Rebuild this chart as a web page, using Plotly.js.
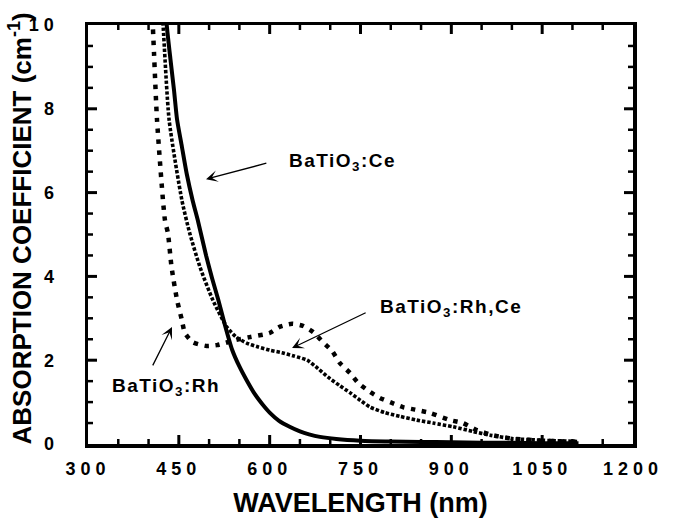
<!DOCTYPE html>
<html>
<head>
<meta charset="utf-8">
<script src="https://cdn.plot.ly/plotly-3.0.1.min.js"></script>
<style>
  html, body { margin: 0; padding: 0; background: #fff; }
  #chart { width: 677px; height: 523px; }
  .xtick text, .ytick text { letter-spacing: 5px; }
  .annotation-text { letter-spacing: 1.5px; }
  g.annotation[data-index="6"] text, g.annotation[data-index="7"] text { letter-spacing: 0px; }
</style>
</head>
<body>
<div id="chart"></div>
<script>
// BaTiO3:Ce (solid line)
const ceWavelength = [425, 430, 436, 442, 447, 455, 463, 473, 482, 495, 505, 515, 525, 538, 550, 562, 575, 588, 600, 615, 633, 650, 665, 683, 710, 750, 800, 850, 900, 950, 1000, 1050, 1110];
const ceAbsorption = [11.0, 10.0, 9.2, 8.45, 7.75, 7.1, 6.45, 5.8, 5.3, 4.5, 3.95, 3.45, 2.9, 2.25, 1.85, 1.52, 1.2, 0.95, 0.75, 0.56, 0.41, 0.3, 0.23, 0.17, 0.12, 0.08, 0.06, 0.05, 0.04, 0.03, 0.03, 0.02, 0.02];

// BaTiO3:Rh,Ce (dense dotted)
const rhceWavelength = [419, 424, 434, 455, 468, 485, 506, 529, 545, 562, 580, 600, 620, 640, 662, 680, 696, 715, 733, 750, 766, 790, 815, 843, 870, 903, 935, 964, 1000, 1050, 1110];
const rhceAbsorption = [11.2, 10.0, 7.73, 5.82, 5.03, 4.22, 3.44, 2.8, 2.55, 2.41, 2.32, 2.24, 2.18, 2.1, 2.0, 1.8, 1.6, 1.4, 1.22, 1.04, 0.88, 0.75, 0.66, 0.57, 0.5, 0.41, 0.3, 0.21, 0.13, 0.09, 0.06];

// BaTiO3:Rh (coarse dotted)
const rhWavelength = [403, 407, 409, 414, 427, 432, 438, 447, 455, 460, 473, 496, 513, 526, 543, 567, 600, 617, 637, 655, 672, 688, 703, 716, 733, 746, 766, 782, 802, 820, 840, 865, 898, 919, 942, 969, 1000, 1050, 1110];
const rhAbsorption = [11.2, 10.0, 9.33, 7.73, 5.35, 5.03, 4.22, 3.44, 2.96, 2.65, 2.43, 2.34, 2.36, 2.41, 2.48, 2.55, 2.65, 2.8, 2.87, 2.82, 2.67, 2.43, 2.22, 1.93, 1.69, 1.46, 1.24, 1.1, 0.98, 0.88, 0.82, 0.74, 0.57, 0.5, 0.33, 0.21, 0.13, 0.08, 0.05];

// Tick labels
const xTickVals = [300, 450, 600, 750, 900, 1050, 1200];
const xTickText = ['300', '450', '600', '750', '900', '1050', '1200'];
const yTickVals = [0, 2, 4, 6, 8, 10];
const yTickText = ['0', '2', '4', '6', '8', '10'];
const xMinorStep = 50;
const yMinorStep = 0.5;

const labelCe = 'BaTiO<sub>3</sub>:Ce';
const labelRhCe = 'BaTiO<sub>3</sub>:Rh,Ce';
const labelRh = 'BaTiO<sub>3</sub>:Rh';
const xTitle = 'WAVELENGTH (nm)';
const yTitle = 'ABSORPTION COEFFICIENT (cm<sup>-1</sup>)';

const FONT = 'Liberation Sans, Arial, Helvetica, sans-serif';

const W = 677, H = 523;
const M = { l: 88, r: 44, t: 25, b: 79 };
const xMin = xTickVals[0], xMax = xTickVals[xTickVals.length - 1];
const yMin = yTickVals[0], yMax = yTickVals[yTickVals.length - 1];
const xPerPx = (xMax - xMin) / (W - M.l - M.r);
const yPerPx = (yMax - yMin) / (H - M.t - M.b);

// Inside tick marks on all four sides, drawn as line traces on the axes' scales
function tickTrace(isMajor) {
  const len = isMajor ? 9 : 5;
  const tx = [], ty = [];
  for (let v = xMin + xMinorStep; v < xMax - 1e-6; v += xMinorStep) {
    const major = xTickVals.indexOf(Math.round(v)) >= 0;
    if (major !== isMajor) continue;
    tx.push(v, v, null, v, v, null);
    ty.push(yMin, yMin + len * yPerPx, null, yMax, yMax - len * yPerPx, null);
  }
  for (let v = yMin + yMinorStep; v < yMax - 1e-6; v += yMinorStep) {
    const major = yTickVals.indexOf(Math.round(v * 10) / 10) >= 0;
    if (major !== isMajor) continue;
    tx.push(xMin, xMin + len * xPerPx, null, xMax, xMax - len * xPerPx, null);
    ty.push(v, v, null, v, v, null);
  }
  return { x: tx, y: ty, mode: 'lines', hoverinfo: 'skip', showlegend: false, connectgaps: false,
    line: { color: '#000', width: isMajor ? 3 : 2.5 } };
}

const traces = [
  tickTrace(true),
  tickTrace(false),
  { x: ceWavelength, y: ceAbsorption, mode: 'lines', name: 'Ce',
    line: { color: '#000', width: 4, shape: 'spline', smoothing: 0.6 } },
  { x: rhceWavelength, y: rhceAbsorption, mode: 'lines', name: 'Rh,Ce',
    line: { color: '#000', width: 3.6, dash: '3.4px,1.9px', shape: 'spline', smoothing: 0.6 } },
  { x: rhWavelength, y: rhAbsorption, mode: 'lines', name: 'Rh',
    line: { color: '#000', width: 4.5, dash: '4.5px,6.5px', shape: 'spline', smoothing: 0.6 } }
];

const axisCommon = {
  showgrid: false, zeroline: false,
  showline: true, linecolor: '#000', linewidth: 3.5, mirror: true, ticks: '',
  tickfont: { family: FONT, size: 18, color: '#000', weight: 'bold' }
};

const arrowCommon = { text: '', showarrow: true, xref: 'x', yref: 'y', axref: 'x', ayref: 'y',
  arrowhead: 3, arrowsize: 1.5, arrowwidth: 1.3, arrowcolor: '#000', standoff: 0, startstandoff: 0 };
const labelFont = { family: FONT, size: 19, color: '#000', weight: 'bold' };

const layout = {
  width: W, height: H,
  margin: M,
  paper_bgcolor: '#fff', plot_bgcolor: '#fff',
  showlegend: false,
  xaxis: Object.assign({}, axisCommon, {
    range: [xMin, xMax], tickmode: 'array', tickvals: xTickVals, ticktext: xTickText,
    ticklabelstandoff: 6
  }),
  yaxis: Object.assign({}, axisCommon, {
    range: [yMin, yMax], tickmode: 'array', tickvals: yTickVals, ticktext: yTickText,
    ticklabelstandoff: 22
  }),
  annotations: [
    { text: labelCe, x: 628.6, y: 6.72, xref: 'x', yref: 'y', xanchor: 'left', yanchor: 'middle', showarrow: false, font: labelFont },
    { text: labelRhCe, x: 778.9, y: 3.24, xref: 'x', yref: 'y', xanchor: 'left', yanchor: 'middle', showarrow: false, font: labelFont },
    { text: labelRh, x: 336.3, y: 1.36, xref: 'x', yref: 'y', xanchor: 'left', yanchor: 'middle', showarrow: false, font: labelFont },
    Object.assign({}, arrowCommon, { x: 494.9, y: 6.32, ax: 597, ay: 6.71 }),
    Object.assign({}, arrowCommon, { x: 637, y: 2.29, ax: 761, ay: 3.15 }),
    Object.assign({}, arrowCommon, { x: 438.7, y: 2.79, ax: 405.7, ay: 1.84 }),
    { text: xTitle, xref: 'paper', yref: 'paper', x: 0.5, y: -0.1408, xanchor: 'center', yanchor: 'middle',
      showarrow: false, font: { family: FONT, size: 27, color: '#000', weight: 'bold' } },
    { text: yTitle, xref: 'paper', yref: 'paper', x: -0.1248, y: 0.515, xanchor: 'center', yanchor: 'middle',
      textangle: -90, showarrow: false, font: { family: FONT, size: 26, color: '#000', weight: 'bold' } }
  ]
};

Plotly.newPlot('chart', traces, layout, { staticPlot: true, displayModeBar: false });
</script>
</body>
</html>
